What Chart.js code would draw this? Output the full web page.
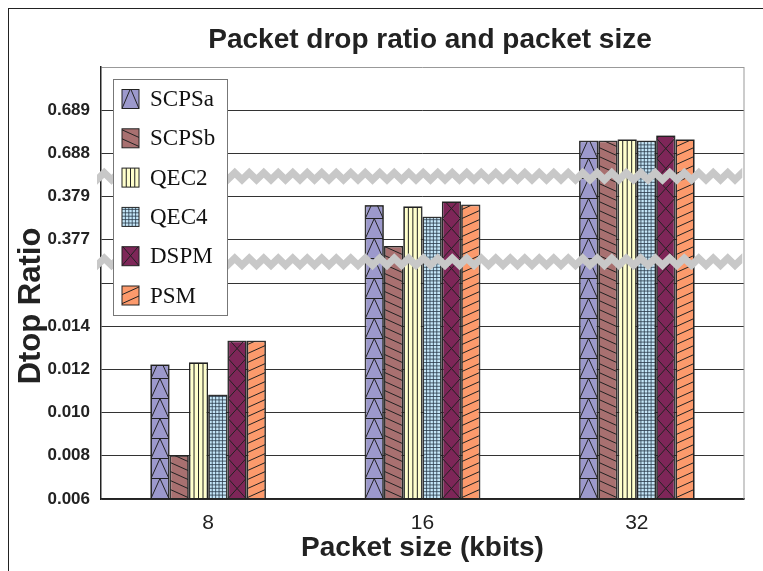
<!DOCTYPE html>
<html>
<head>
<meta charset="utf-8">
<script src="https://cdn.jsdelivr.net/npm/chart.js@4.4.1/dist/chart.umd.min.js"></script>
<style>
    html, body { margin: 0; padding: 0; background: #fff; }
    #wrap { position: relative; width: 763px; height: 571px; overflow: hidden; }
    #frame { position: absolute; left: 8px; top: 8px; width: 800px; height: 600px; border: 1.5px solid #222; }
    #chart { position: absolute; left: 0; top: 0; }
</style>
</head>
<body>
<div id="wrap">
    <div id="frame"></div>
    <canvas id="chart" width="763" height="571"></canvas>
</div>
<script>
// ==========================================
// DATA
// ==========================================
const categories = ['8', '16', '32'];
const seriesNames = ['SCPSa', 'SCPSb', 'QEC2', 'QEC4', 'DSPM', 'PSM'];

const scpsaValues = [0.0122, 0.37858, 0.68828];
const scpsbValues = [0.0080, 0.37669, 0.68828];
const qec2Values  = [0.0123, 0.37852, 0.68831];
const qec4Values  = [0.0108, 0.37804, 0.68828];
const dspmValues  = [0.0133, 0.37875, 0.68840];
const psmValues   = [0.0133, 0.37860, 0.68831];

// broken axis: evenly spaced ticks, labelled with these values
const yTickLabels = ['0.006', '0.008', '0.010', '0.012', '0.014', '', '0.377', '0.379', '0.688', '0.689', ''];

// where the zigzag break bands sit, in axis units
const breakTicks = [5.49, 7.47];

// real value -> position on the broken axis
function toAxis(v) {
    if (v < 0.02) return (v - 0.006) / 0.002;
    if (v < 0.5) return 6 + (v - 0.377) / 0.002;
    return 8 + (v - 0.688) / 0.001;
}

const SANS = "'Liberation Sans', Arial, sans-serif";
const SERIF = "'Liberation Serif', 'DejaVu Serif', serif";

const seriesStyle = [
    { color: '#9c99cc', hatch: 'tri' },
    { color: '#a87070', hatch: 'back' },
    { color: '#ffffcc', hatch: 'vert' },
    { color: '#c4e6f8', hatch: 'grid' },
    { color: '#7e2658', hatch: 'cross' },
    { color: '#fc9a6c', hatch: 'fwd' }
];

const allValues = [scpsaValues, scpsbValues, qec2Values, qec4Values, dspmValues, psmValues];

// ==========================================
// HATCH PATTERNS drawn inside a rectangle
// ==========================================
function hatch(ctx, kind, L, T, W, H) {
    const R = L + W, B = T + H;
    ctx.beginPath();
    if (kind === 'tri') {
        for (let yb = B; yb > T - 20; yb -= 20) {
            ctx.moveTo(L, yb); ctx.lineTo(R, yb);
            ctx.moveTo(L, yb); ctx.lineTo(L + W / 2, yb - 20); ctx.lineTo(R, yb);
        }
    } else if (kind === 'back') {
        const d = W * 0.45;
        for (let y0 = B + d; y0 > T - 10; y0 -= 9) {
            ctx.moveTo(L, y0 - d); ctx.lineTo(R, y0);
        }
    } else if (kind === 'fwd') {
        const d = W * 0.45;
        for (let y0 = B + d; y0 > T - 10; y0 -= 9) {
            ctx.moveTo(L, y0); ctx.lineTo(R, y0 - d);
        }
    } else if (kind === 'vert') {
        for (let x = L + W / 4; x < R - 1; x += W / 4) {
            ctx.moveTo(x, T); ctx.lineTo(x, B);
        }
    } else if (kind === 'grid') {
        for (let x = L + 3.4; x < R - 1; x += 3.4) { ctx.moveTo(x, T); ctx.lineTo(x, B); }
        for (let y = B - 3.4; y > T; y -= 3.4) { ctx.moveTo(L, y); ctx.lineTo(R, y); }
    } else if (kind === 'cross') {
        const h = 20;
        for (let y0 = B; y0 > T - h; y0 -= h) {
            ctx.moveTo(L, y0); ctx.lineTo(R, y0 - h);
            ctx.moveTo(L, y0 - h); ctx.lineTo(R, y0);
        }
    }
    ctx.strokeStyle = kind === 'grid' ? '#2a3a4a' : '#222';
    ctx.lineWidth = kind === 'grid' ? 0.8 : 1;
    ctx.stroke();
}

function drawZigzag(ctx, x0, x1, yc) {
    const p = 14.5, amp = 7, thick = 10;
    const top = [];
    let i = 0;
    for (let x = x0; x <= x1 + 0.1; x += p / 2, i++) {
        top.push([x, yc - thick / 2 - (i % 2 === 0 ? 0 : amp) + amp / 2]);
    }
    ctx.beginPath();
    top.forEach(([x, y], k) => k === 0 ? ctx.moveTo(x, y) : ctx.lineTo(x, y));
    for (let k = top.length - 1; k >= 0; k--) ctx.lineTo(top[k][0], top[k][1] + thick);
    ctx.closePath();
    ctx.fillStyle = '#c8c8c8';
    ctx.fill();
}

const decorations = {
    id: 'decorations',
    afterDatasetsDraw(chart) {
        const ctx = chart.ctx;
        const area = chart.chartArea;
        chart.data.datasets.forEach((ds, i) => {
            const meta = chart.getDatasetMeta(i);
            meta.data.forEach(bar => {
                const { x, y, base, width } = bar.getProps(['x', 'y', 'base', 'width'], true);
                const L = x - width / 2, W = width, T = y, H = base - y;
                ctx.save();
                ctx.beginPath();
                ctx.rect(L, T, W, H);
                ctx.clip();
                hatch(ctx, ds.hatch, L, T, W, H);
                ctx.restore();
                ctx.strokeStyle = '#222';
                ctx.lineWidth = 1;
                ctx.strokeRect(L, T, W, H);
            });
        });

        // right border of the plot
        ctx.save();
        ctx.strokeStyle = '#999';
        ctx.lineWidth = 1;
        ctx.beginPath();
        ctx.moveTo(area.right, area.top);
        ctx.lineTo(area.right, area.bottom);
        ctx.stroke();

        // break bands
        breakTicks.forEach(t => {
            drawZigzag(ctx, area.left - 4, area.right + 3, chart.scales.y.getPixelForValue(t));
        });
        ctx.restore();
    },
    afterDraw(chart) {
        const ctx = chart.ctx;
        const area = chart.chartArea;
        ctx.save();

        // chart title, centred over the plot
        ctx.fillStyle = '#222';
        ctx.font = 'bold 28px ' + SANS;
        ctx.textAlign = 'center';
        ctx.textBaseline = 'middle';
        ctx.fillText('Packet drop ratio and packet size', 430, 40);

        // legend box inside the plot
        const bx = area.left + 12, by = area.top + 12, bw = 114, bh = 236;
        ctx.fillStyle = '#fff';
        ctx.fillRect(bx, by, bw, bh);
        ctx.strokeStyle = '#777';
        ctx.lineWidth = 1;
        ctx.strokeRect(bx + 0.5, by + 0.5, bw, bh);
        chart.data.datasets.forEach((ds, i) => {
            const cy = by + 20 + i * 39.3;
            const sx = bx + 9, sy = cy - 9.5, sw = 17, sh = 19;
            ctx.fillStyle = ds.backgroundColor;
            ctx.fillRect(sx, sy, sw, sh);
            ctx.save();
            ctx.beginPath();
            ctx.rect(sx, sy, sw, sh);
            ctx.clip();
            hatch(ctx, ds.hatch, sx, sy, sw, sh);
            ctx.restore();
            ctx.strokeStyle = '#222';
            ctx.lineWidth = 1;
            ctx.strokeRect(sx, sy, sw, sh);
            ctx.fillStyle = '#111';
            ctx.font = '23px ' + SERIF;
            ctx.textAlign = 'left';
            ctx.textBaseline = 'middle';
            ctx.fillText(ds.label, bx + 37, cy + 1);
        });

        // y axis title
        ctx.translate(31, 306);
        ctx.rotate(-Math.PI / 2);
        ctx.fillStyle = '#222';
        ctx.font = 'bold 31px ' + SANS;
        ctx.textAlign = 'center';
        ctx.textBaseline = 'middle';
        ctx.fillText('Dtop Ratio', 0, 0);
        ctx.restore();
    }
};

const datasets = seriesNames.map((name, i) => ({
    label: name,
    data: allValues[i].map(toAxis),
    backgroundColor: seriesStyle[i].color,
    hatch: seriesStyle[i].hatch,
    borderColor: '#222',
    borderWidth: 1,
    barPercentage: 0.93,
    categoryPercentage: 0.54
}));

new Chart(document.getElementById('chart').getContext('2d'), {
    type: 'bar',
    data: { labels: categories, datasets: datasets },
    options: {
        responsive: false,
        animation: false,
        layout: { padding: { left: 9, right: 19, top: 67, bottom: 0 } },
        plugins: {
            legend: { display: false },
            tooltip: { enabled: false },
            title: { display: false }
        },
        scales: {
            x: {
                grid: { display: false },
                border: { color: '#222', width: 1.5 },
                ticks: { color: '#222', font: { family: SANS, size: 21 }, padding: 4 },
                title: {
                    display: true,
                    text: 'Packet size (kbits)',
                    color: '#222',
                    font: { family: SANS, size: 28, weight: 'bold' },
                    padding: { top: 0, bottom: 6 }
                },
                afterFit: s => { s.height = 72; }
            },
            y: {
                min: 0,
                max: 10,
                grid: {
                    color: c => c.tick && c.tick.value === 10 ? '#999' : '#333',
                    drawTicks: false,
                    lineWidth: 1
                },
                border: { color: '#222', width: 1.5 },
                ticks: {
                    stepSize: 1,
                    color: '#222',
                    padding: 11,
                    font: { family: SANS, size: 17, weight: 'bold' },
                    callback: v => yTickLabels[v]
                },
                afterFit: s => { s.width = 92; }
            }
        }
    },
    plugins: [decorations]
});
</script>
</body>
</html>
